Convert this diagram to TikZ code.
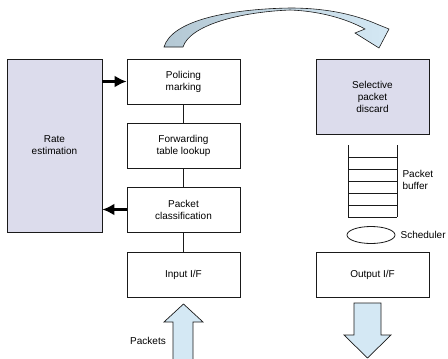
\documentclass[tikz,border=0pt]{standalone}
\usepackage{fontspec}
\setmainfont{Liberation Sans}
\usepackage{xcolor}
\usetikzlibrary{arrows.meta,shapes.geometric}
\definecolor{clav}{HTML}{DCDCEC}
\definecolor{csky}{HTML}{D4E8F4}
\definecolor{cslate}{HTML}{B4C8D4}
\definecolor{cink}{HTML}{1A1A1A}
\tikzset{
  blk/.style={draw=cink,line width=0.8pt,align=center,fill=white,inner sep=2pt},
  fat/.style={line width=2.6pt,-{Latex[length=12pt,width=12pt]}},
  flow/.style={draw=cink,line width=0.7pt,fill=csky}}

\begin{document}
\begin{tikzpicture}[x=1pt,y=-1pt,font=\fontsize{10}{12}\selectfont]
\useasboundingbox (0,0) rectangle (448,359);

% ================= LEFT: input side =================
\node[blk,fill=clav,minimum width=95pt,minimum height=173pt] (rate) at (54.5,145.5) {Rate\\estimation};
\node[blk,minimum width=113pt,minimum height=45pt] (police) at (183.5,81.5) {Policing\\marking};
\node[blk,minimum width=113pt,minimum height=45pt] (fwd) at (183.5,145.5) {Forwarding\\table lookup};
\node[blk,minimum width=113pt,minimum height=45pt] (classif) at (183.5,209.5) {Packet\\classification};
\node[blk,minimum width=113pt,minimum height=45pt] (inif) at (183.5,274.5) {Input I/F};
\draw[cink,line width=0.8pt] (police) -- (fwd);
\draw[cink,line width=0.8pt] (fwd) -- (classif);
\draw[cink,line width=0.8pt] (classif) -- (inif);
\draw[fat] (rate.east |- police.west) -- (police.west);
\draw[fat] (classif.west) -- (rate.east |- classif.west);

% incoming packets
\filldraw[flow] (173,360) -- (173,322) -- (164,322) -- (183.5,304) -- (203,322) -- (193,322) -- (193,360);
\node (pkts) at (148,341) {Packets};

% ================= RIGHT: output side =================
\node[blk,fill=clav,minimum width=113pt,minimum height=75pt] (discard) at (372.5,96.5) {Selective\\packet\\discard};
\draw[cink,line width=0.8pt] (348,145) -- (348,217) (397,145) -- (397,217);
\foreach \y in {157,169,181,193,205,217}
  \draw[cink,line width=0.8pt] (348,\y) -- (397,\y);
\node[anchor=west,align=left] (buflbl) at (399,180) {Packet\\buffer};
\node[ellipse,draw=cink,line width=0.8pt,minimum width=48pt,minimum height=17pt,inner sep=0pt] (sched) at (371,235) {};
\node[anchor=west,inner sep=2pt] (schedlbl) at ([xshift=3pt]sched.east) {Scheduler};
\node[blk,minimum width=113pt,minimum height=45pt] (outif) at (372.5,274.5) {Output I/F};

% outgoing packets
\filldraw[flow] (354,303) -- (354,335) -- (344,335) -- (367.5,358) -- (391,335) -- (381,335) -- (381,303) -- cycle;

% ================= TOP: curved hand-over arrow =================
\shade[left color=cslate,right color=csky,draw=cink,line width=0.6pt]
  (164,47) .. controls (172,20) and (230,9) .. (290,8)
  .. controls (322,8) and (352,13) .. (379,25)
  -- (389,29) -- (379,48) -- (355,33) -- (365,29)
  .. controls (345,18) and (318,11) .. (290,10)
  .. controls (240,12) and (190,25) .. (183,47) -- cycle;

\end{tikzpicture}
\end{document}
